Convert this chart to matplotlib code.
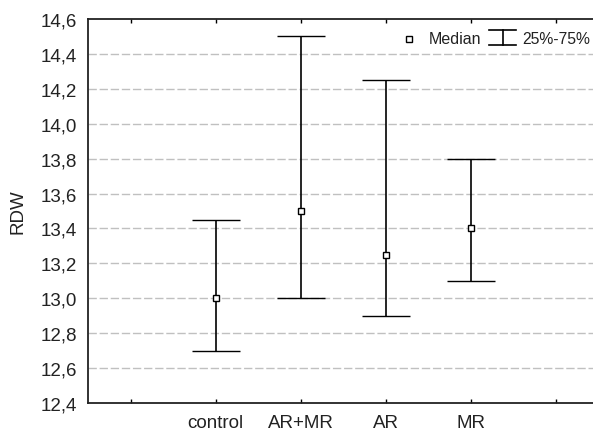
import numpy as np
from matplotlib import pyplot as plt

plt.rcParams['font.family'] = ['Liberation Sans', 'DejaVu Sans']

groups = ['control', 'AR+MR', 'AR', 'MR']
median = np.array([13.0, 13.5, 13.25, 13.4])
q25 = np.array([12.7, 13.0, 12.9, 13.1])
q75 = np.array([13.45, 14.5, 14.25, 13.8])
yticks = [12.4, 12.6, 12.8, 13.0, 13.2, 13.4, 13.6, 13.8, 14.0, 14.2, 14.4, 14.6]

fig = plt.figure(figsize=(5.93, 4.31), dpi=100)
ax = fig.add_axes([88/593, 1-404/431, 510/593, 384/431])

pos = np.arange(1, len(groups)+1)
ax.errorbar(pos, median, yerr=[median-q25, q75-median], fmt='s', ms=5,
            mfc='white', mec='black', mew=1, ecolor='black', elinewidth=1.2,
            capsize=17, capthick=1.2)

ax.set_xlim(-0.5, 5.5)
ax.set_ylim(12.4, 14.6)
ax.set_yticks(yticks)
ax.set_yticklabels([('%.1f' % v).replace('.', ',') for v in yticks])
ax.set_xticks(np.arange(0, 6))
ax.set_xticklabels([''] + groups + [''])
for v in yticks[1:-1]:
    ax.axhline(v, color='#c0c0c0', lw=1, dashes=(6, 2), zorder=0)

ax.tick_params(axis='x', direction='in', length=3, width=1, top=True,
               pad=8, labelsize=13.5, colors='black')
ax.tick_params(axis='y', length=0, pad=8, labelsize=13.5)
for lab in ax.get_xticklabels() + ax.get_yticklabels():
    lab.set_color('#222222')
for s in ax.spines.values():
    s.set_linewidth(1.3)
    s.set_color('#222222')
ax.set_ylabel('RDW', fontsize=13.5, labelpad=10, color='#222222')

# legend drawn by hand
tr = fig.transFigure
ax.plot([409/593], [1-40/431], 's', ms=5, mfc='white', mec='black', mew=1,
        transform=tr, clip_on=False)
ax.text(429/593, 1-40/431, 'Median', transform=tr, va='center', ha='left',
        fontsize=11.5, color='#222222')
x0, x1, xm = 489/593, 516/593, 502.5/593
yt, yb = 1-31/431, 1-46/431
ax.plot([x0, x1], [yt, yt], color='black', lw=1.2, transform=tr, clip_on=False)
ax.plot([x0, x1], [yb, yb], color='black', lw=1.2, transform=tr, clip_on=False)
ax.plot([xm, xm], [yt, yb], color='black', lw=1.2, transform=tr, clip_on=False)
ax.text(522/593, 1-40/431, '25%-75%', transform=tr, va='center', ha='left',
        fontsize=11.3, color='#222222')

fig.savefig('out.png', dpi=100)
